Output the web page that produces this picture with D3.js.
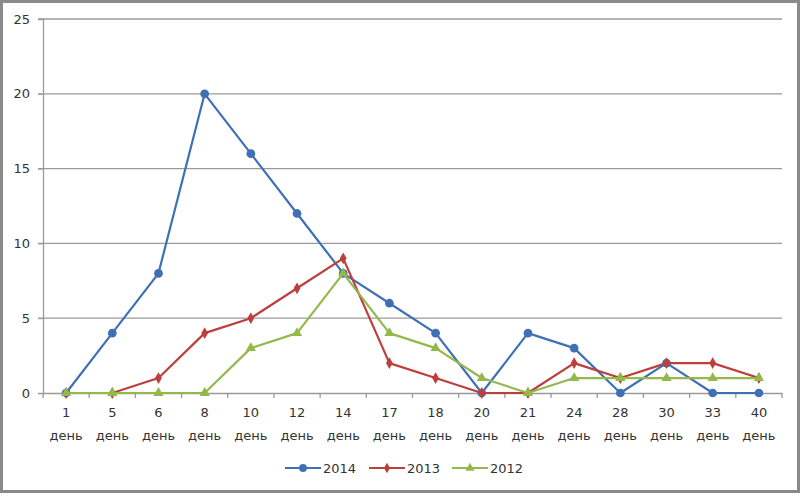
<!DOCTYPE html>
<html><head><meta charset="utf-8">
<script src="https://cdn.jsdelivr.net/npm/d3@7"></script>
<style>body{margin:0;background:#fff}svg{display:block}</style>
</head><body>
<svg id="c" width="801" height="495"></svg>
<script>
const categories = ["1","5","6","8","10","12","14","17","18","20","21","24","28","30","33","40"];
const unitLabel = "день";
const s2014 = [0,4,8,20,16,12,8,6,4,0,4,3,0,2,0,0];
const s2013 = [0,0,1,4,5,7,9,2,1,0,0,2,1,2,2,1];
const s2012 = [0,0,0,0,3,4,8,4,3,1,0,1,1,1,1,1];
const yTicks = [0,5,10,15,20,25];
const seriesNames = ["2014","2013","2012"];

(function(){
const series = [
  {name: seriesNames[0], values: s2014, color: "#3F70B6", sym: d3.symbolCircle, size: 60},
  {name: seriesNames[1], values: s2013, color: "#BC3F3C", sym: d3.symbolDiamond, size: 40},
  {name: seriesNames[2], values: s2012, color: "#93B84C", sym: d3.symbolTriangle, size: 45}
];

const svg = d3.select("#c");
const font = "'DejaVu Sans', sans-serif";
svg.append("rect").attr("x",1.5).attr("y",1.5).attr("width",797).attr("height",490)
  .attr("fill","#fff").attr("stroke","#8a8a8a").attr("stroke-width",3);

const mLeft = 43, mRight = 782, mTop = 19, mBottom = 393;
const x = d3.scaleBand().domain(categories).range([mLeft, mRight]);
const y = d3.scaleLinear().domain([0,25]).range([mBottom, mTop]);

svg.append("g").selectAll("line").data(yTicks.filter(d=>d>0)).join("line")
  .attr("x1", mLeft-5).attr("x2", mRight).attr("y1", d=>y(d)).attr("y2", d=>y(d))
  .attr("stroke","#9a9a9a").attr("stroke-width",1.3);

const yAxis = svg.append("g").attr("transform",`translate(${mLeft},0)`)
  .call(d3.axisLeft(y).tickValues(yTicks).tickSize(5).tickPadding(8));
yAxis.select(".domain").attr("stroke","#9a9a9a").attr("stroke-width",1.3);
yAxis.selectAll(".tick line").attr("stroke","#9a9a9a");
yAxis.selectAll("text").attr("font-family",font).attr("font-size",13).attr("fill","#333");

const xAxis = svg.append("g").attr("transform",`translate(0,${mBottom})`)
  .call(d3.axisBottom(x).tickSize(0).tickFormat(""));
xAxis.select(".domain").attr("stroke","#9a9a9a").attr("stroke-width",1.3);
const bounds = categories.map(c=>x(c)).concat([mRight]);
svg.append("g").selectAll("line").data(bounds).join("line")
  .attr("x1",d=>d).attr("x2",d=>d).attr("y1",mBottom).attr("y2",mBottom+5)
  .attr("stroke","#9a9a9a").attr("stroke-width",1.3);
const lab = svg.append("g").selectAll("text").data(categories).join("text")
  .attr("text-anchor","middle")
  .attr("font-family",font).attr("font-size",13).attr("fill","#333");
lab.append("tspan").attr("x", d=>x(d)+x.bandwidth()/2).attr("y",417).text(d=>d);
lab.append("tspan").attr("x", d=>x(d)+x.bandwidth()/2).attr("y",440).text(unitLabel);

const line = d3.line().x((d,i)=>x(categories[i])+x.bandwidth()/2).y(d=>y(d));
series.forEach(s=>{
  svg.append("path").attr("d", line(s.values)).attr("fill","none")
    .attr("stroke", s.color).attr("stroke-width",2.2).attr("stroke-linejoin","round");
  svg.append("g").selectAll("path").data(s.values).join("path")
    .attr("transform",(d,i)=>`translate(${x(categories[i])+x.bandwidth()/2},${y(d)})`)
    .attr("d", d3.symbol().type(s.sym).size(s.size)).attr("fill", s.color);
});

const legX = [285, 369, 452];
series.forEach((s,i)=>{
  const g = svg.append("g").attr("transform",`translate(${legX[i]},468)`);
  g.append("line").attr("x1",0).attr("x2",36).attr("y1",0).attr("y2",0)
    .attr("stroke",s.color).attr("stroke-width",2.2);
  g.append("path").attr("transform","translate(18,0)")
    .attr("d", d3.symbol().type(s.sym).size(s.size*0.8)).attr("fill",s.color);
  g.append("text").attr("x",38).attr("y",5).attr("font-family",font)
    .attr("font-size",13).attr("fill","#333").text(s.name);
});
})();
</script>
</body></html>
